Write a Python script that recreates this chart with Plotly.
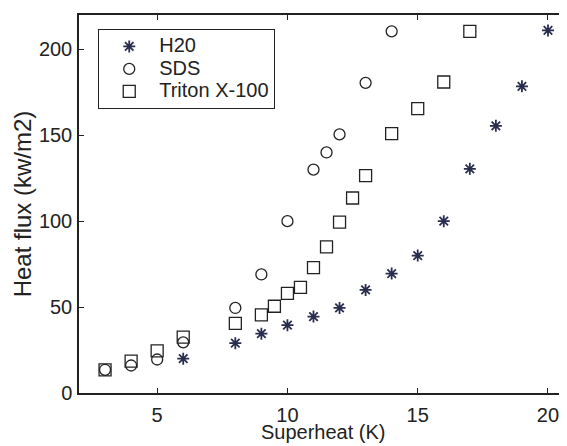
import plotly.graph_objects as go

# superheat (K) and heat flux (kW/m2)
h2o_x = [6, 8, 9, 10, 11, 12, 13, 14, 15, 16, 17, 18, 19, 20]
h2o_y = [20, 29, 34.5, 39.5, 44.5, 49.5, 60, 69.5, 80, 100, 130.5, 155.5, 178.5, 211]

sds_x = [3, 4, 5, 6, 8, 9, 10, 11, 11.5, 12, 13, 14]
sds_y = [13.5, 16, 19.5, 29.5, 49.5, 69, 100, 130, 140, 150.5, 180.5, 210.5]

triton_x = [3, 4, 5, 6, 8, 9, 9.5, 10, 10.5, 11, 11.5, 12, 12.5, 13, 14, 15, 16, 17]
triton_y = [13.5, 18.5, 24.5, 32.5, 40.5, 45.5, 50.5, 58, 61.5, 73, 85, 99.5,
            113.5, 126.5, 151, 165.5, 181, 210.5]

series_names = ['H20', 'SDS', 'Triton X-100']

ink = '#222222'
font = dict(family='Liberation Sans, Arial, sans-serif', size=20, color=ink)


def legend_label(s):
    # bigger text than the legend font, so the rows stay tight like the original
    return '<span style="font-size:20px">%s</span>' % s


fig = go.Figure()
fig.add_trace(go.Scatter(
    x=h2o_x, y=h2o_y, mode='markers', name=legend_label(series_names[0]),
    marker=dict(symbol='asterisk-open', size=10, color='#2a2e4e',
                line=dict(width=1.8, color='#2a2e4e'))
))
fig.add_trace(go.Scatter(
    x=sds_x, y=sds_y, mode='markers', name=legend_label(series_names[1]),
    marker=dict(symbol='circle-open', size=11, color=ink,
                line=dict(width=1.3, color=ink))
))
fig.add_trace(go.Scatter(
    x=triton_x, y=triton_y, mode='markers', name=legend_label(series_names[2]),
    marker=dict(symbol='square-open', size=12, color=ink,
                line=dict(width=1.3, color=ink))
))

# page body has an 8px margin, so the figure is 8px smaller than the window
fig.update_layout(
    width=559, height=438,
    margin=dict(l=71, r=0, t=7, b=53),
    paper_bgcolor='white', plot_bgcolor='white',
    font=font,
    showlegend=True,
    legend=dict(x=0.039, y=0.963, xanchor='left', yanchor='top',
                bordercolor=ink, borderwidth=1.2, bgcolor='white',
                font=dict(size=15), tracegroupgap=0, itemwidth=50),
)
# x title as an annotation so it sits a little lower, clear of the tick labels
fig.add_annotation(
    text='Superheat (K)', xref='paper', yref='paper', x=0.5, y=0,
    xanchor='center', yanchor='top', yshift=-26, showarrow=False,
    font=dict(size=20, color=ink),
)
fig.update_xaxes(
    range=[2, 20.73], tickvals=[5, 10, 15, 20],
    ticks='inside', ticklen=5, tickcolor=ink, ticklabelstandoff=3,
    showline=True, linecolor=ink, linewidth=1.5, mirror='ticks',
    showgrid=False, zeroline=False, automargin=False,
)
fig.update_yaxes(
    range=[0, 220], tickvals=[0, 50, 100, 150, 200],
    ticks='inside', ticklen=5, tickcolor=ink, ticklabelstandoff=1,
    showline=True, linecolor=ink, linewidth=1.5,
    showgrid=False, zeroline=False, automargin=False,
    title=dict(text='Heat flux (kw/m2)', standoff=0),
)

fig.write_html("out.html")
